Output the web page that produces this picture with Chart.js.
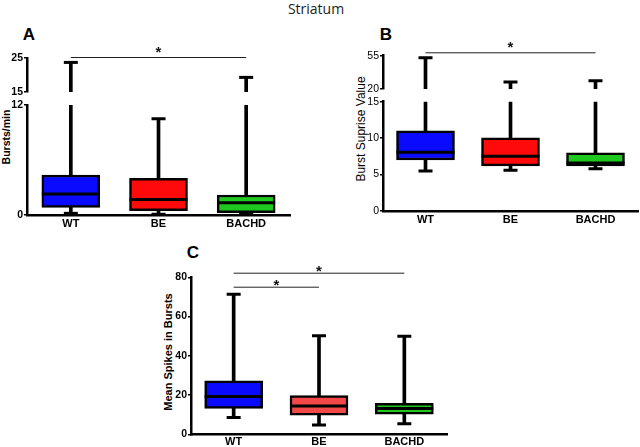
<!DOCTYPE html>
<html>
<head>
<meta charset="utf-8">
<script src="https://cdn.jsdelivr.net/npm/chart.js@4.4.0/dist/chart.umd.min.js"></script>
<style>
  html, body { margin: 0; padding: 0; background: #ffffff; overflow: hidden; }
  body { width: 640px; height: 447px; position: relative; font-family: "Liberation Sans", Arial, sans-serif; }
  canvas { position: absolute; }
  .txt { position: absolute; white-space: nowrap; color: #000; }
  .rot { transform: translate(-50%, -50%) rotate(-90deg); }
  .ctr { transform: translate(-50%, -50%); }
</style>
</head>
<body>
<div class="txt ctr" style="left:316px; top:8px; font-family:'Open Sans', sans-serif; font-size:14px; color:#222;">Striatum</div>
<div class="txt ctr" style="left:29px; top:35px; font-size:17px; font-weight:bold;">A</div>
<div class="txt ctr" style="left:386px; top:35px; font-size:17px; font-weight:bold;">B</div>
<div class="txt ctr" style="left:193px; top:253px; font-size:17px; font-weight:bold;">C</div>
<div class="txt rot" style="left:6px; top:137px; font-size:10.5px; font-weight:bold;">Bursts/min</div>
<div class="txt rot" style="left:361px; top:129px; font-size:12px;">Burst Suprise Value</div>
<div class="txt rot" style="left:168px; top:352px; font-size:11px; font-weight:bold;">Mean Spikes in Bursts</div>

<canvas id="aTop" width="300" height="80" style="left:0px; top:20px;"></canvas>
<canvas id="aBot" width="300" height="135" style="left:0px; top:95px;"></canvas>
<canvas id="bTop" width="320" height="77" style="left:320px; top:20px;"></canvas>
<canvas id="bBot" width="320" height="138" style="left:320px; top:92px;"></canvas>
<canvas id="cMain" width="330" height="222" style="left:130px; top:225px;"></canvas>

<script>
// ---------------- DATA ----------------
const categories = ['WT', 'BE', 'BACHD'];

// Panel A: Bursts/min
const aMin    = [0.18, 0.08, 0.1];
const aQ1     = [0.84, 0.47, 0.25];
const aMedian = [2.3, 1.7, 1.34];
const aQ3     = [4.36, 4.0, 2.18];
const aMax    = [23.7, 10.5, 19.3];
const aTopTicks = [15, 25];
const aBotTicks = [0, 12];

// Panel B: Burst Suprise Value
const bMin    = [5.5, 5.6, 5.8];
const bQ1     = [7.0, 6.2, 6.2];
const bMedian = [8.05, 7.5, 6.6];
const bQ3     = [11.0, 10.05, 8.0];
const bMax    = [52.9, 27.4, 28.7];
const bTopTicks = [20, 55];
const bBotTicks = [0, 5, 10, 15];

// Panel C: Mean Spikes in Bursts
const cMin    = [8.5, 4.7, 5.4];
const cQ1     = [13.2, 9.8, 10.3];
const cMedian = [19.2, 14.4, 13.2];
const cQ3     = [27.3, 19.7, 15.8];
const cMax    = [71.3, 50.2, 49.9];
const cTicks  = [0, 20, 40, 60, 80];

// significance comparisons (category index pairs)
const aSig = [[0, 2]];
const bSig = [[0, 2]];
const cSig = [[0, 1], [0, 2]];

// ---------------- STYLE / CHARTS ----------------
Chart.defaults.font.family = '"Liberation Sans", Arial, sans-serif';
Chart.defaults.color = '#000';

const sigPlugin = {
  id: 'sig',
  afterDatasetsDraw(chart, args, opts) {
    if (!opts || !opts.items) return;
    const ctx = chart.ctx;
    const xs = chart.scales.x;
    const top = chart.chartArea.top;
    ctx.save();
    opts.items.forEach(it => {
      const x1 = xs.getPixelForValue(it.pair[0]);
      const x2 = xs.getPixelForValue(it.pair[1]);
      const ly = top + it.line;
      ctx.strokeStyle = '#222';
      ctx.lineWidth = 1;
      ctx.beginPath();
      ctx.moveTo(x1, ly + 0.5);
      ctx.lineTo(x2, ly + 0.5);
      ctx.stroke();
      ctx.fillStyle = '#111';
      ctx.font = 'bold 15px "Liberation Sans", Arial, sans-serif';
      ctx.textAlign = 'center';
      ctx.textBaseline = 'alphabetic';
      ctx.fillText('*', (x1 + x2) / 2, top + it.star + 8);
    });
    ctx.restore();
  }
};

function boxChart(id, cfg) {
  const upperWhisk = categories.map((c, i) => [cfg.q3[i], cfg.max[i]]);
  const lowerWhisk = categories.map((c, i) => [cfg.min[i], cfg.q1[i]]);
  const boxes = categories.map((c, i) => [cfg.q1[i], cfg.q3[i]]);
  return new Chart(document.getElementById(id), {
    type: 'bar',
    data: {
      labels: categories,
      datasets: [
        { data: upperWhisk, backgroundColor: '#000', borderWidth: 0, barThickness: 3, grouped: false, clip: 0, order: 5 },
        { data: lowerWhisk, backgroundColor: '#000', borderWidth: 0, barThickness: 3, grouped: false, clip: 0, order: 5 },
        { data: boxes, backgroundColor: cfg.colors, borderColor: '#000', borderWidth: 2.5, borderSkipped: false,
          barThickness: 58, grouped: false, clip: 0, order: 4 },
        { type: 'line', data: cfg.median, showLine: false, pointStyle: 'line', pointRadius: 29,
          pointBorderWidth: 3, pointBorderColor: '#000', clip: 0, order: 1 },
        { type: 'line', data: cfg.max, showLine: false, pointStyle: 'line', pointRadius: 7,
          pointBorderWidth: 3, pointBorderColor: '#000', clip: 0, order: 1 },
        { type: 'line', data: cfg.min, showLine: false, pointStyle: 'line', pointRadius: 7,
          pointBorderWidth: 3, pointBorderColor: '#000', clip: 0, order: 1 }
      ]
    },
    options: {
      responsive: false,
      devicePixelRatio: 1,
      animation: false,
      events: [],
      layout: { padding: cfg.padding, autoPadding: false },
      plugins: {
        legend: { display: false },
        tooltip: { enabled: false },
        title: { display: false },
        sig: { items: cfg.sig || [] }
      },
      scales: {
        x: {
          display: cfg.showX,
          offset: true,
          grid: { display: false, drawTicks: false, tickLength: 0 },
          border: { display: true, color: '#000', width: 2.5 },
          ticks: { font: { size: 11, weight: 'bold' }, padding: cfg.xPad || 2, color: '#000' },
          afterFit: s => { s.height = cfg.xHeight || 0; }
        },
        y: {
          min: cfg.yMin, max: cfg.yMax,
          grid: { display: true, drawOnChartArea: false, drawTicks: true, tickLength: 3, color: '#000', lineWidth: 1.5 },
          border: { display: true, color: '#000', width: 2.5 },
          ticks: { font: { size: 10.5, weight: cfg.tickWeight }, padding: 1, color: '#000' },
          afterBuildTicks: s => { s.ticks = cfg.ticks.map(v => ({ value: v })); },
          afterFit: s => { s.width = cfg.yWidth; }
        }
      }
    },
    plugins: [sigPlugin]
  });
}

const colA = ['#0a0aff', '#ff0a0a', '#1ec81e'];
const colB = ['#0a0aff', '#ff0a0a', '#1ec81e'];
const colC = ['#0a0aff', '#f24848', '#1ec81e'];

boxChart('aTop', { min: aMin, q1: aQ1, median: aMedian, q3: aQ3, max: aMax, colors: colA,
  yMin: 15, yMax: 25, ticks: aTopTicks, yWidth: 27, showX: false, tickWeight: 'bold',
  padding: { top: 38, bottom: 8, right: 10, left: 0 },
  sig: aSig.map(p => ({ pair: p, line: -1, star: -9 })) });
boxChart('aBot', { min: aMin, q1: aQ1, median: aMedian, q3: aQ3, max: aMax, colors: colA,
  yMin: 0, yMax: 12, ticks: aBotTicks, yWidth: 27, showX: true, xHeight: 15, tickWeight: 'bold',
  padding: { top: 10, bottom: 0, right: 10, left: 0 } });

boxChart('bTop', { min: bMin, q1: bQ1, median: bMedian, q3: bQ3, max: bMax, colors: colB,
  yMin: 20, yMax: 55, ticks: bTopTicks, yWidth: 63, showX: false, tickWeight: 'normal',
  padding: { top: 35.7, bottom: 8, right: 2, left: 0 },
  sig: bSig.map(p => ({ pair: p, line: -3.4, star: -11.7 })) });
boxChart('bBot', { min: bMin, q1: bQ1, median: bMedian, q3: bQ3, max: bMax, colors: colB,
  yMin: 0, yMax: 15, ticks: bBotTicks, yWidth: 63, showX: true, xHeight: 19, tickWeight: 'normal',
  padding: { top: 9.7, bottom: 0, right: 2, left: 0 } });

boxChart('cMain', { min: cMin, q1: cQ1, median: cMedian, q3: cQ3, max: cMax, colors: colC,
  yMin: 0, yMax: 80, ticks: cTicks, yWidth: 61, showX: true, xHeight: 12.7, xPad: 1, tickWeight: 'bold',
  padding: { top: 52.3, bottom: 0, right: 13, left: 0 },
  sig: [{ pair: cSig[0], line: 9.4, star: 4.7 }, { pair: cSig[1], line: -4.6, star: -9.3 }] });
</script>
</body>
</html>
